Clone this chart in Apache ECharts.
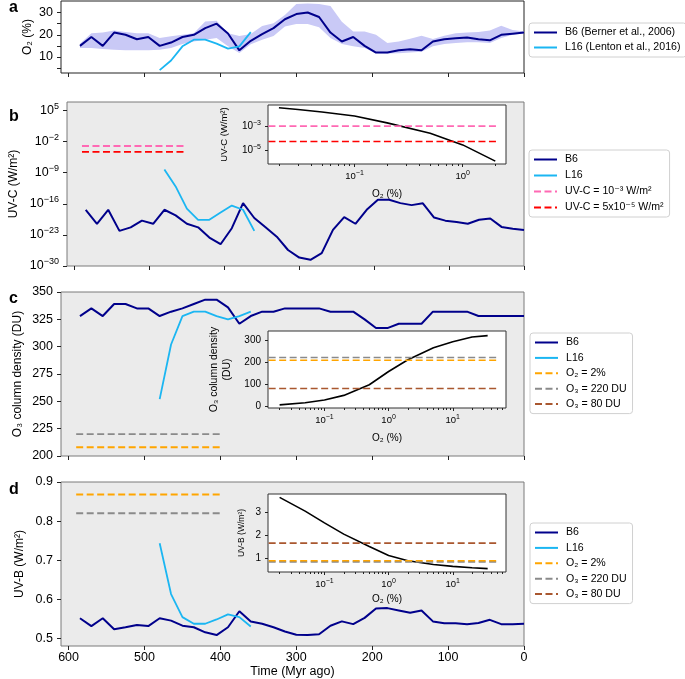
<!DOCTYPE html>
<html><head><meta charset="utf-8">
<script src="https://cdn.jsdelivr.net/npm/echarts@6/dist/echarts.min.js"></script>
<style>html,body{margin:0;padding:0;background:#fff}#c{width:685px;height:679px}</style>
</head><body><div id="c"></div>
<script>
// ---------------- DATA ----------------
const times = [585,570,555,540,525,510,495,480,465,450,435,420,405,390,375,360,345,330,315,300,285,270,255,240,225,210,195,180,165,150,135,120,105,90,75,60,45,30,15,0];
const b6O2 = [15,19,15,21,20,18,19,15,16.5,19,20,23,25,20.6,13,17.3,20.3,23,27,29.3,30,28,21,17,19,15,12,12,13,13.5,13,17,18,18.4,18.8,18,17.5,20,20.5,21];
const b6O2Upper = [16,20.7,21,21.9,21.2,20.7,20.7,18.5,19.3,20,20.7,26,26.3,20.7,19.5,20.4,24,25.2,28.9,33.8,34.1,33.8,32.9,25.9,21.5,21.5,20,16.3,17,18.2,19.6,18.1,19.6,20.7,21,21.3,21.9,24.1,22.2,21.5];
const b6O2Lower = [14,14,13.6,13.3,13,13,13,13.3,14,15.9,17,17.8,18.5,14.8,11.8,15.7,17.8,19.5,23.7,24.9,24.9,23.4,18.5,15.9,14.8,14.1,11.7,11.6,11.7,12,12.4,14.8,15.9,16.3,16.6,16.6,16.3,18.5,20,20.7];
const b6UVC = [4.5e-18,3.2e-21,4.5e-18,7.9e-23,5e-22,1.6e-20,3.2e-21,4.5e-18,2.5e-19,3.2e-21,5e-22,2.5e-24,7.9e-26,3.2e-22,1.4e-16,6.3e-20,5e-22,4e-24,4e-27,7.9e-29,2.5e-29,7.9e-28,1.3e-22,1e-19,3.2e-21,4.5e-18,7.9e-16,7.9e-16,1.4e-16,5e-17,1.3e-16,7.9e-20,1.6e-20,7.9e-21,3.2e-21,2.5e-20,5e-20,6.3e-22,2.5e-22,1.3e-22];
const b6O3 = [328,335,328,339,339,335,335,328,332,335,339,343,343,336,321,328,332,332,335,335,335,335,332,332,332,325,317,317,321,321,321,332,332,332,332,328,328,328,328,328];
const b6UVB = [0.551,0.531,0.551,0.523,0.528,0.534,0.531,0.551,0.545,0.532,0.528,0.515,0.508,0.528,0.569,0.543,0.537,0.528,0.517,0.509,0.508,0.510,0.532,0.543,0.536,0.552,0.576,0.577,0.571,0.565,0.571,0.543,0.538,0.538,0.536,0.539,0.547,0.536,0.536,0.537];

const l16Times = [480,465,450,435,420,405,390,375,360];
const l16O2 = [4.1,8.4,14.8,17.8,17.8,16,13.8,14.8,21.2];
const l16UVC = [5e-9,7.9e-13,7.9e-18,2.5e-20,2.5e-20,1.1e-18,4e-17,4.5e-18,7.9e-23];
const l16O3 = [252,302,328,332,332,328,325,328,332];
const l16UVB = [0.743,0.613,0.554,0.537,0.537,0.548,0.561,0.554,0.530];

// reference (threshold) lines
const refSpanB = [590, 450];
const refSpanCD = [590, 400];
const uvcRefHigh = 1e-3;
const uvcRefLow = 5e-5;
const o3AtO2Two = 208;
const o3Ref220 = 220;
const o3Ref80 = 80;
const uvbAtO2Two = 0.868;
const uvbAt220 = 0.82;
const uvbAt80 = 1.65;

// insets
const insetO2B = [0.02,0.03,0.05,0.1,0.2,0.5,1,2];
const insetUVC = [0.036,0.026,0.016,0.0072,0.0019,0.00025,2.6e-5,1.1e-6];
const insetSpanB = [0.016, 2.05];
const insetO2 = [0.02,0.05,0.1,0.2,0.5,1,2,5,10,20,35];
const insetO3 = [6,16,28,49,97,157,210,264,291,313,319];
const insetUVB = [3.68,3.07,2.55,2.05,1.5,1.1,0.87,0.7,0.62,0.56,0.52];
const insetSpanCD = [0.0135, 48];

// ticks
const xTicks = [600,500,400,300,200,100,0];
const yTicksA = [5,10,15,20,25,30];
const yLabelsA = [10,20,30];
const uvcTicks = [1e-30,1e-23,1e-16,1e-9,1e-2,1e5];
const yTicksC = [200,225,250,275,300,325,350];
const yTicksD = [0.5,0.6,0.7,0.8,0.9];
const insetUVCTicks = [1e-5,1e-3];
const insetXTicksB = [0.1,1];
const insetXTicksCD = [0.1,1,10];
const insetO3Ticks = [0,100,200,300];
const insetUVBTicks = [1,2,3];

// ---------------- STYLE ----------------
const FONT = "'Liberation Sans', 'DejaVu Sans', Arial, sans-serif";
const C_B6 = '#00008b', C_L16 = '#1bb6f2', C_BAND = '#c9c9f6', C_PINK = '#ff69b4', C_RED = '#ff0000',
      C_ORANGE = '#ffa500', C_GRAY = '#8a8a8a', C_BROWN = '#a9572f', C_BLACK = '#000';
const DASH = [7, 3.5];
const lg = v => Math.log10(v);
const pairs = (xs, ys, fx, fy) => xs.map((x, i) => [fx ? fx(x) : x, fy ? fy(ys[i]) : ys[i]]);
function supFmt(v) { const e = Math.round(v); return '10{s|' + (e < 0 ? '\u2212' + (-e) : String(e)) + '}'; }

function minorsLog(lo, hi) {
  const out = [];
  for (let n = -3; n <= 2; n++) for (let k = 2; k <= 9; k++) {
    const l = Math.log10(k * Math.pow(10, n));
    if (l > lo && l < hi) out.push(l);
  }
  return out;
}

function line(name, xi, yi, data, color, width, dash, z) {
  return { type: 'line', name, xAxisIndex: xi, yAxisIndex: yi, data, symbol: 'none', showSymbol: false,
    lineStyle: { color, width, type: dash ? DASH : 'solid' }, itemStyle: { color }, z: z || 2, animation: false,
    emphasis: { disabled: true } };
}

const axisTxt = { fontFamily: FONT, color: '#000' };
const noLine = { show: false, onZero: false };

function mainX(gi, showLabels) {
  return { gridIndex: gi, type: 'value', position: 'bottom', min: 0, max: 610, inverse: true,
    axisLine: noLine, splitLine: { show: false },
    axisTick: { show: true, inside: false, length: 4, customValues: xTicks, lineStyle: { color: '#222' } },
    axisLabel: Object.assign({ show: showLabels, customValues: xTicks, fontSize: 12.5, margin: 5 }, axisTxt),
    name: showLabels ? 'Time (Myr ago)' : '', nameLocation: 'middle', nameGap: 19, nameMoveOverlap: false,
    nameTextStyle: Object.assign({ fontSize: 12.5 }, axisTxt) };
}
function mainY(gi, min, max, ticks, labels, fmt, name, gap, rich) {
  const lab = Object.assign({ customValues: labels, fontSize: 12.5, margin: 8 }, axisTxt);
  if (fmt) lab.formatter = fmt;
  if (rich) lab.rich = rich;
  return { gridIndex: gi, type: 'value', position: 'left', min, max, axisLine: noLine, splitLine: { show: false },
    axisTick: { show: true, inside: false, length: 4, customValues: ticks, lineStyle: { color: '#222' } },
    axisLabel: lab, name, nameLocation: 'middle', nameGap: gap, nameMoveOverlap: false,
    nameTextStyle: Object.assign({ fontSize: 12 }, axisTxt) };
}
const richMain = { s: { fontSize: 9, verticalAlign: 'top', padding: [0, 0, 8, 0], fontFamily: FONT, color: '#000' } };
const richInset = { s: { fontSize: 7, verticalAlign: 'top', padding: [0, 0, 6, 0], fontFamily: FONT, color: '#000' } };

function insetX(gi, min, max, ticks, gap) {
  return { gridIndex: gi, type: 'value', position: 'bottom', min, max, axisLine: noLine, splitLine: { show: false },
    axisTick: { show: true, inside: false, length: 3, customValues: ticks, lineStyle: { color: '#222' } },
    axisLabel: Object.assign({ customValues: ticks, fontSize: 9.5, margin: 6, formatter: supFmt, rich: richInset }, axisTxt),
    name: 'O\u2082 (%)', nameLocation: 'middle', nameGap: gap, nameMoveOverlap: false,
    nameTextStyle: Object.assign({ fontSize: 10 }, axisTxt) };
}
function insetMinorX(gi, min, max) {
  return { gridIndex: gi, type: 'value', position: 'bottom', min, max, axisLine: noLine, splitLine: { show: false },
    axisTick: { show: true, inside: false, length: 2, customValues: minorsLog(min, max), lineStyle: { color: '#222' } },
    axisLabel: { show: false } };
}
function insetY(gi, min, max, ticks, fmt, rich, name, gap, nameSize) {
  const lab = Object.assign({ customValues: ticks, fontSize: 10, margin: 7 }, axisTxt);
  if (fmt) lab.formatter = fmt;
  if (rich) lab.rich = rich;
  return { gridIndex: gi, type: 'value', position: 'left', min, max, axisLine: noLine, splitLine: { show: false },
    axisTick: { show: true, inside: false, length: 3, customValues: ticks, lineStyle: { color: '#222' } },
    axisLabel: lab, name, nameLocation: 'middle', nameGap: gap, nameMoveOverlap: false,
    nameTextStyle: Object.assign({ fontSize: nameSize, lineHeight: nameSize + 2 }, axisTxt) };
}

const XB = [-1.8, 0.4], XCD = [-1.88, 1.83];

const grids = [
  { left: 61, top: 1, width: 463, height: 72, show: true, backgroundColor: '#fff', borderColor: '#222', borderWidth: 1 },
  { left: 61, top: 102, width: 463, height: 164, show: true, backgroundColor: '#ebebeb', borderColor: '#7a7a7a', borderWidth: 1 },
  { left: 61, top: 292, width: 463, height: 164, show: true, backgroundColor: '#ebebeb', borderColor: '#7a7a7a', borderWidth: 1 },
  { left: 61, top: 482, width: 463, height: 164, show: true, backgroundColor: '#ebebeb', borderColor: '#7a7a7a', borderWidth: 1 },
  { left: 268, top: 105, width: 238, height: 59, show: true, backgroundColor: '#fff', borderColor: '#333', borderWidth: 1 },
  { left: 268, top: 331, width: 238, height: 77, show: true, backgroundColor: '#fff', borderColor: '#333', borderWidth: 1 },
  { left: 268, top: 494, width: 238, height: 78, show: true, backgroundColor: '#fff', borderColor: '#333', borderWidth: 1 }
];

const xAxes = [
  mainX(0, false), mainX(1, false), mainX(2, false), mainX(3, true),
  insetX(4, XB[0], XB[1], insetXTicksB.map(lg), 25),
  insetX(5, XCD[0], XCD[1], insetXTicksCD.map(lg), 25),
  insetX(6, XCD[0], XCD[1], insetXTicksCD.map(lg), 22),
  insetMinorX(4, XB[0], XB[1]), insetMinorX(5, XCD[0], XCD[1]), insetMinorX(6, XCD[0], XCD[1])
];
const yAxes = [
  mainY(0, 2.8, 35.2, yTicksA, yLabelsA, null, 'O\u2082 (%)', 27),
  mainY(1, -30, 6.9, uvcTicks.map(lg), uvcTicks.map(lg), supFmt, 'UV-C (W/m\u00b2)', 47, richMain),
  mainY(2, 200, 350, yTicksC, yTicksC, null, 'O\u2083 column density (DU)', 37),
  mainY(3, 0.48, 0.9, yTicksD, yTicksD, v => v.toFixed(1), 'UV-B (W/m\u00b2)', 35),
  insetY(4, -6.2, -1.21, insetUVCTicks.map(lg), supFmt, richInset, 'UV-C (W/m\u00b2)', 38, 9.5),
  insetY(5, -8, 340, insetO3Ticks, null, null, 'O\u2083 column density\n(DU)', 35, 10.5),
  insetY(6, 0.37, 3.83, insetUVBTicks, null, null, 'UV-B (W/m\u00b2)', 21, 8.5)
];

const N_B6A = 'B6 (Berner et al., 2006)', N_L16A = 'L16 (Lenton et al., 2016)';
const N_PINK = 'UV-C = 10\u207b\u00b3 W/m\u00b2', N_RED = 'UV-C = 5x10\u207b\u2075 W/m\u00b2';
const N_OR = 'O\u2082 = 2%', N_GR = 'O\u2083 = 220 DU', N_BR = 'O\u2083 = 80 DU';

// uncertainty band for panel a, drawn as one polygon through the axis scales
const bandSeries = {
  type: 'custom', name: '_band', xAxisIndex: 0, yAxisIndex: 0, clip: true, silent: true, animation: false, z: 1,
  data: times.map((t, i) => [t, b6O2Lower[i], b6O2Upper[i]]),
  encode: { x: 0, y: [1, 2] },
  renderItem: function (params, api) {
    if (params.dataIndex !== 0) return null;
    const pts = [];
    for (let i = 0; i < times.length; i++) pts.push(api.coord([times[i], b6O2Upper[i]]));
    for (let i = times.length - 1; i >= 0; i--) pts.push(api.coord([times[i], b6O2Lower[i]]));
    return { type: 'polygon', shape: { points: pts }, style: { fill: C_BAND, stroke: 'none' } };
  }
};

const series = [
  bandSeries,
  line(N_B6A, 0, 0, pairs(times, b6O2), C_B6, 2),
  line(N_L16A, 0, 0, pairs(l16Times, l16O2), C_L16, 1.8),
  // panel b
  line('B6', 1, 1, pairs(times, b6UVC, null, lg), C_B6, 2),
  line('L16', 1, 1, pairs(l16Times, l16UVC, null, lg), C_L16, 1.8),
  line(N_PINK, 1, 1, pairs(refSpanB, [uvcRefHigh, uvcRefHigh], null, lg), C_PINK, 1.8, true),
  line(N_RED, 1, 1, pairs(refSpanB, [uvcRefLow, uvcRefLow], null, lg), C_RED, 1.8, true),
  // inset b
  line('_insetUVC', 4, 4, pairs(insetO2B, insetUVC, lg, lg), C_BLACK, 1.6),
  line(N_PINK, 4, 4, pairs(insetSpanB, [uvcRefHigh, uvcRefHigh], lg, lg), C_PINK, 1.6, true),
  line(N_RED, 4, 4, pairs(insetSpanB, [uvcRefLow, uvcRefLow], lg, lg), C_RED, 1.6, true),
  // panel c
  line('B6', 2, 2, pairs(times, b6O3), C_B6, 2),
  line('L16', 2, 2, pairs(l16Times, l16O3), C_L16, 1.8),
  line(N_OR, 2, 2, pairs(refSpanCD, [o3AtO2Two, o3AtO2Two]), C_ORANGE, 1.8, true),
  line(N_GR, 2, 2, pairs(refSpanCD, [o3Ref220, o3Ref220]), C_GRAY, 1.8, true),
  // inset c
  line('_insetO3', 5, 5, pairs(insetO2, insetO3, lg), C_BLACK, 1.6),
  line(N_GR, 5, 5, pairs(insetSpanCD, [o3Ref220, o3Ref220], lg), C_GRAY, 1.6, true),
  line(N_OR, 5, 5, pairs(insetSpanCD, [o3AtO2Two, o3AtO2Two], lg), C_ORANGE, 1.6, true),
  line(N_BR, 5, 5, pairs(insetSpanCD, [o3Ref80, o3Ref80], lg), C_BROWN, 1.6, true),
  // panel d
  line('B6', 3, 3, pairs(times, b6UVB), C_B6, 2),
  line('L16', 3, 3, pairs(l16Times, l16UVB), C_L16, 1.8),
  line(N_OR, 3, 3, pairs(refSpanCD, [uvbAtO2Two, uvbAtO2Two]), C_ORANGE, 1.8, true),
  line(N_GR, 3, 3, pairs(refSpanCD, [uvbAt220, uvbAt220]), C_GRAY, 1.8, true),
  // inset d
  line('_insetUVB', 6, 6, pairs(insetO2, insetUVB, lg), C_BLACK, 1.6),
  line(N_BR, 6, 6, pairs(insetSpanCD, [uvbAt80, uvbAt80], lg), C_BROWN, 1.6, true),
  line(N_GR, 6, 6, pairs(insetSpanCD, [uvbAt220, uvbAt220], lg), C_GRAY, 1.6, true),
  line(N_OR, 6, 6, pairs(insetSpanCD, [uvbAtO2Two, uvbAtO2Two], lg), C_ORANGE, 1.6, true)
];

function legend(left, top, names, gap) {
  return { orient: 'vertical', left, top, data: names, selectedMode: false,
    itemWidth: 23, itemHeight: 10, itemGap: gap, padding: [4, 6, 4, 4],
    itemStyle: { opacity: 0 },
    backgroundColor: '#fff', borderColor: '#d0d0d0', borderWidth: 1, borderRadius: 3,
    textStyle: { fontSize: 10.6, fontFamily: FONT, color: '#000', padding: [0, 0, 0, 3] } };
}

const option = {
  animation: false,
  grid: grids, xAxis: xAxes, yAxis: yAxes, series,
  legend: [
    legend(529, 23, [N_B6A, N_L16A], 4),
    legend(529, 150, ['B6', 'L16', N_PINK, N_RED], 5),
    legend(530, 333, ['B6', 'L16', N_OR, N_GR, N_BR], 4.4),
    legend(530, 523, ['B6', 'L16', N_OR, N_GR, N_BR], 4.4)
  ],
  graphic: [
    { type: 'text', x: 9, y: 7.8, style: { text: 'a', font: 'bold 16px ' + FONT, fill: '#000', verticalAlign: 'middle' } },
    { type: 'text', x: 9, y: 117, style: { text: 'b', font: 'bold 16px ' + FONT, fill: '#000', verticalAlign: 'middle' } },
    { type: 'text', x: 9, y: 298.7, style: { text: 'c', font: 'bold 16px ' + FONT, fill: '#000', verticalAlign: 'middle' } },
    { type: 'text', x: 9, y: 489.3, style: { text: 'd', font: 'bold 16px ' + FONT, fill: '#000', verticalAlign: 'middle' } }
  ]
};

const chart = echarts.init(document.getElementById('c'), null, { renderer: 'canvas' });
chart.setOption(option);
</script></body></html>
